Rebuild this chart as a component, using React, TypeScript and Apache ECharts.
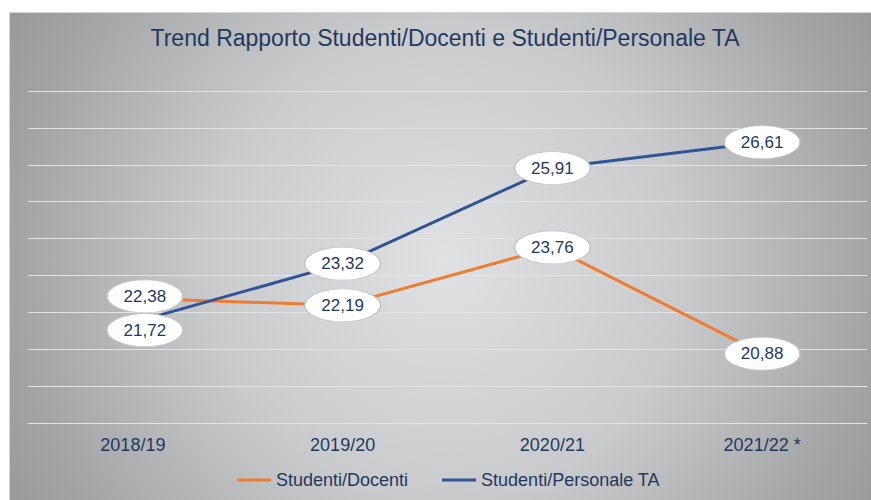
import React, { useEffect, useRef } from "react";
import * as echarts from "echarts";

const titleText = "Trend Rapporto Studenti/Docenti e Studenti/Personale TA";
const categories = ["2018/19", "2019/20", "2020/21", "2021/22 *"];
const seriesNames = ["Studenti/Docenti", "Studenti/Personale TA"];
const studentiDocenti = [22.38, 22.19, 23.76, 20.88];
const studentiPersonaleTA = [21.72, 23.32, 25.91, 26.61];
const yMin = 19;
const yMax = 28;
const yStep = 1;

const NAVY = "#1F3A5F";
const ORANGE = "#ED7D31";
const BLUE = "#2F5597";
const GRID = "#E4E4E4";
const FONT = "'Liberation Sans', Arial, Helvetica, sans-serif";
const ELLIPSE = "path://M0,50A50,50,0,1,1,100,50A50,50,0,1,1,0,50Z";

// label offsets (style only) for the first category, where labels were nudged
const orangeOffsets: number[][] = [[12, -2], [0, 0], [0, 0], [0, 0]];
const blueOffsets: number[][] = [[12, 7.5], [0, 0], [0, 0], [0, 0]];

function fmt(v: number) {
  return v.toFixed(2).replace(".", ",");
}

function buildData(values: number[], offsets: number[][]) {
  return values.map((v, i) => ({
    value: v,
    symbolOffset: offsets[i],
    itemStyle: { color: "#FFFFFF", borderColor: "#C4C4C4", borderWidth: 1 },
  }));
}

function makeSeries(name: string, values: number[], color: string, offsets: number[][]) {
  return {
    type: "line",
    name,
    data: buildData(values, offsets),
    lineStyle: { color, width: 3 },
    itemStyle: { color },
    symbol: ELLIPSE,
    symbolSize: [76, 33],
    symbolKeepAspect: false,
    showAllSymbol: true,
    emphasis: { disabled: true },
    label: {
      show: true,
      position: "inside",
      color: NAVY,
      fontSize: 17,
      fontFamily: FONT,
      formatter: (p: any) => fmt(p.value),
    },
  };
}

export default function App() {
  const ref = useRef<HTMLDivElement>(null);

  useEffect(() => {
    if (!ref.current) return;
    const chart = echarts.init(ref.current, null, { renderer: "svg" });
    const option: any = {
      animation: false,
      backgroundColor: "#FFFFFF",
      graphic: [
        {
          type: "rect",
          z: -100,
          silent: true,
          shape: { x: 9.5, y: 12.5, width: 880, height: 500 },
          style: {
            fill: new echarts.graphic.RadialGradient(
              445,
              262,
              500,
              [
                { offset: 0, color: "#E0E1E3" },
                { offset: 0.48, color: "#C9CACC" },
                { offset: 0.86, color: "#A3A4A6" },
                { offset: 1, color: "#98999B" },
              ],
              true
            ),
            stroke: "#D6D6D6",
            lineWidth: 1,
          },
        },
        {
          type: "text",
          z: 100,
          silent: true,
          x: 445,
          y: 38,
          style: {
            text: titleText,
            fill: NAVY,
            font: `23px ${FONT}`,
            textAlign: "center",
            textVerticalAlign: "middle",
          },
        },
      ],
      grid: { left: 28, right: 4, top: 91, bottom: 77, containLabel: false },
      xAxis: {
        type: "category",
        data: categories,
        boundaryGap: true,
        axisTick: { show: false },
        axisLine: { show: true, lineStyle: { color: GRID, width: 1 } },
        axisLabel: { color: NAVY, fontSize: 18, fontFamily: FONT, margin: 13 },
        splitLine: { show: false },
      },
      yAxis: {
        type: "value",
        min: yMin,
        max: yMax,
        interval: yStep,
        axisLine: { show: false },
        axisTick: { show: false },
        axisLabel: { show: false },
        splitLine: { show: true, lineStyle: { color: GRID, width: 1 } },
      },
      legend: {
        show: true,
        left: 237,
        top: 471,
        padding: 0,
        icon: "rect",
        itemWidth: 34,
        itemHeight: 3,
        itemGap: 34,
        itemStyle: { borderWidth: 0 },
        textStyle: { color: NAVY, fontSize: 18, fontFamily: FONT },
        data: seriesNames,
      },
      series: [
        makeSeries(seriesNames[0], studentiDocenti, ORANGE, orangeOffsets),
        makeSeries(seriesNames[1], studentiPersonaleTA, BLUE, blueOffsets),
      ],
    };
    chart.setOption(option);
    return () => chart.dispose();
  }, []);

  return (
    <div
      ref={ref}
      style={{ position: "absolute", left: 0, top: 0, width: 871, height: 500, background: "#fff" }}
    />
  );
}
